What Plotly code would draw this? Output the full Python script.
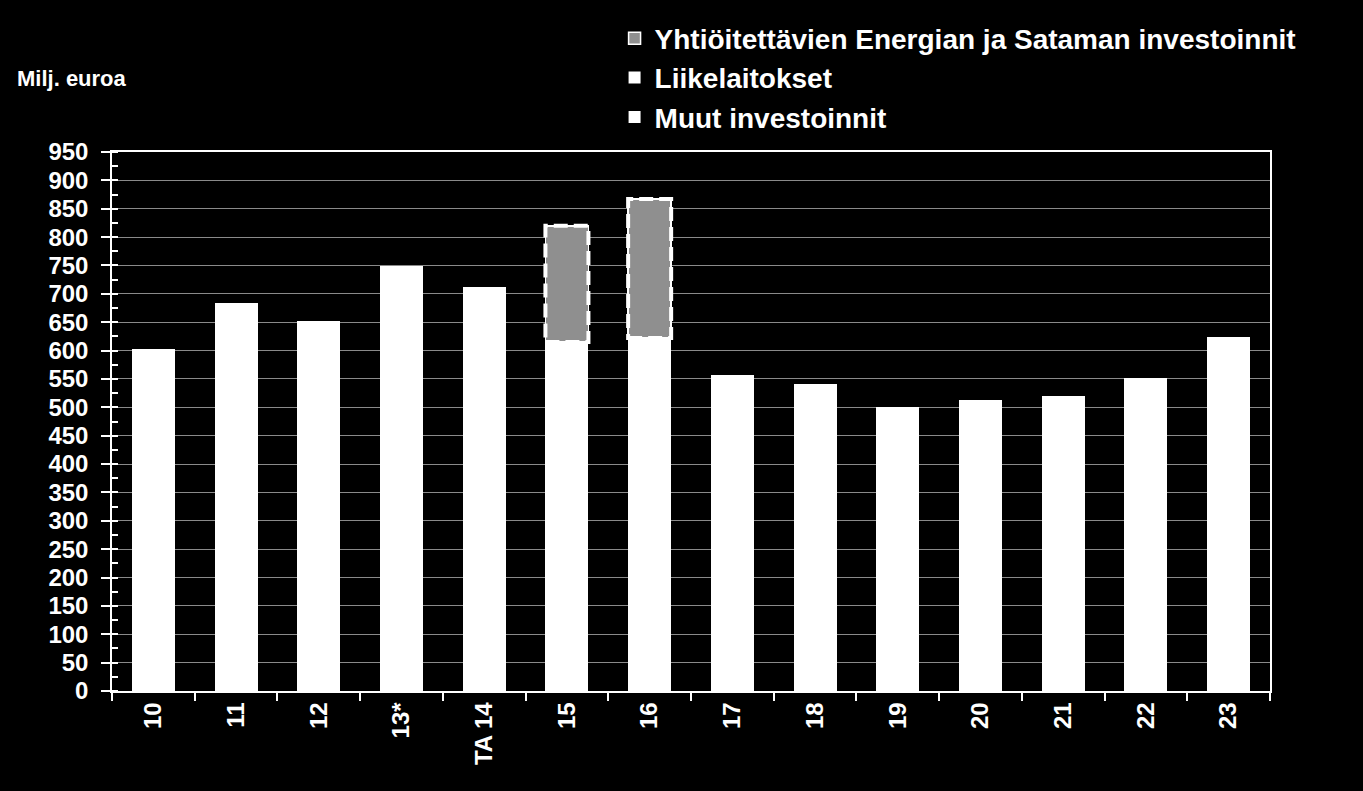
import plotly.graph_objects as go

# categories on the x axis
years = ['10', '11', '12', '13*', 'TA 14', '15', '16', '17', '18', '19', '20', '21', '22', '23']

# millions of euros
muut = [602, 683, 650, 747, 710, 615, 622, 555, 539, 500, 511, 518, 550, 622]
liikelaitokset = [0, 0, 0, 0, 0, 0, 0, 0, 0, 0, 0, 0, 0, 0]
energia_satama = [0, 0, 0, 0, 0, 205, 245, 0, 0, 0, 0, 0, 0, 0]

font_family = 'Arial, Liberation Sans, sans-serif'
bar_half = 0.26

fig = go.Figure()
fig.add_trace(go.Bar(
    x=years, y=muut, name='<b>Muut investoinnit</b>',
    marker=dict(color='white', line=dict(width=0)),
    legendgroup='a', legendrank=3,
))
fig.add_trace(go.Bar(
    x=years, y=liikelaitokset, name='<b>Liikelaitokset</b>',
    marker=dict(color='white', line=dict(width=0)),
    legendgroup='b', legendrank=2,
))
fig.add_trace(go.Bar(
    x=years, y=energia_satama, name='<b>Yhtiöitettävien Energian ja Sataman investoinnit</b>',
    marker=dict(color='#8f8f8f', line=dict(color='white', width=1.5)),
    legendgroup='c', legendrank=1,
))

# dashed outline round the company investments, taken from the data
for i, v in enumerate(energia_satama):
    if v > 0:
        base = muut[i] + liikelaitokset[i]
        fig.add_shape(
            type='rect', xref='x', yref='y',
            x0=i - bar_half, x1=i + bar_half, y0=base, y1=base + v,
            line=dict(color='white', width=4, dash='14px,6px'),
            fillcolor='rgba(0,0,0,0)', layer='above',
        )

fig.update_layout(
    barmode='stack',
    bargap=0.48,
    width=1363, height=791,
    paper_bgcolor='black', plot_bgcolor='black',
    margin=dict(l=112, r=93, t=152, b=100),
    font=dict(family=font_family, color='white'),
    showlegend=True,
    legend=dict(
        x=0.434, y=1.257, xanchor='left', yanchor='top',
        traceorder='grouped', tracegroupgap=0,
        font=dict(size=28, color='white'),
        bgcolor='rgba(0,0,0,0)',
    ),
    annotations=[dict(
        text='<b>Milj. euroa</b>', xref='paper', yref='paper',
        x=-0.084, y=1.137, xanchor='left', yanchor='middle',
        showarrow=False, font=dict(size=22, color='white'),
    )],
)

fig.update_xaxes(
    type='category',
    tickangle=-90,
    tickfont=dict(size=24, color='white', family=font_family, weight='bold'),
    showline=True, linecolor='white', linewidth=1.5, mirror=True,
    ticks='outside', tickson='boundaries', ticklen=8, tickcolor='white', tickwidth=1.5,
    showgrid=False,
)
fig.update_yaxes(
    range=[0, 950],
    dtick=50,
    tickfont=dict(size=24, color='white', family=font_family, weight='bold'),
    ticklabelstandoff=8,
    showline=True, linecolor='white', linewidth=1.5, mirror=True,
    ticks='outside', ticklen=9, tickcolor='white', tickwidth=1.5,
    minor=dict(ticks='inside', ticklen=6, dtick=25, tickcolor='white', tickwidth=1.5, showgrid=False),
    showgrid=True, gridcolor='#8a8a8a', gridwidth=1.2,
    zeroline=False,
)

# the page margin would shift the whole figure, drop it
fig.write_html(
    'out.html',
    config={'displayModeBar': False},
    post_script="document.body.style.margin='0';document.body.style.background='black';",
)
